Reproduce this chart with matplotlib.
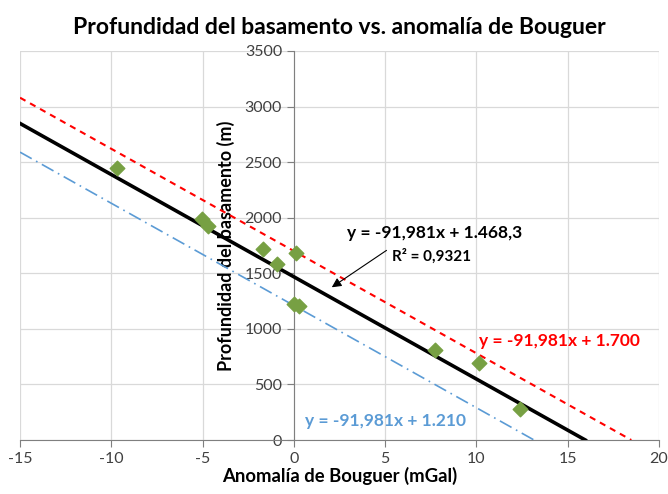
import numpy as np
import matplotlib.pyplot as plt

plt.rcParams['font.family'] = ['Lato', 'DejaVu Sans']
plt.rcParams['axes.unicode_minus'] = False

# datos
anomalia = [-9.7, -5.05, -4.72, -1.71, -0.94, 0.11, 0.0, 0.3, 7.73, 10.15, 12.4]
profundidad = [2448, 1985, 1925, 1716, 1584, 1680, 1224, 1210, 810, 690, 275]

pendiente = -91.981
ordenadas = [1468.3, 1700, 1210]
colores = ['black', '#ff0000', '#5b9bd5']
etiquetas = ['y = -91,981x + 1.468,3', 'y = -91,981x + 1.700', 'y = -91,981x + 1.210']

x_ticks = [-15, -10, -5, 0, 5, 10, 15, 20]
y_ticks = [0, 500, 1000, 1500, 2000, 2500, 3000, 3500]

fig = plt.figure(figsize=(6.68, 4.94), dpi=100)
ax = fig.add_axes([0.030, 0.1093, 0.9565, 0.7875])

# rectas: desde x=-15 hasta el corte con y=0
estilos = [dict(lw=2.6, ls='-'), dict(lw=1.5, ls=(0, (3, 2.5))), dict(lw=1.2, ls=(0, (8, 3, 1, 3)))]
for b, c, st in zip(ordenadas, colores, estilos):
    x0 = -b / pendiente
    xs = np.array([-15, x0])
    ax.plot(xs, pendiente * xs + b, color=c, zorder=3, **st)

ax.scatter(anomalia, profundidad, marker='D', s=55, color='#77a043', zorder=4)

ax.set_xlim(-15, 20)
ax.set_ylim(0, 3500)
ax.set_xticks(x_ticks)
ax.set_yticks(y_ticks)
ax.grid(True, color='#d9d9d9', lw=0.9)
ax.set_axisbelow(True)

ax.spines['left'].set_position(('data', 0))
ax.spines['top'].set_visible(False)
ax.spines['right'].set_visible(False)
for s in ['left', 'bottom']:
    ax.spines[s].set_color('#7f7f7f')
    ax.spines[s].set_zorder(2)
ax.tick_params(axis='both', direction='out', length=5, color='#7f7f7f',
               labelcolor='#404040', labelsize=11.5)

ax.set_title('Profundidad del basamento vs. anomalía de Bouguer',
             fontsize=16.5, fontweight='bold', pad=12)
ax.set_xlabel('Anomalía de Bouguer (mGal)', fontsize=13.3, fontweight='bold', labelpad=1)
ax.set_ylabel('Profundidad del basamento (m)', fontsize=13, fontweight='bold')
ax.yaxis.set_label_coords(0.337, 0.5)

ax.text(7.73, 1863, etiquetas[0], fontsize=12.5, fontweight='bold', ha='center', va='center')
ax.text(7.56, 1650, 'R² = 0,9321', fontsize=11, fontweight='bold', ha='center', va='center')
ax.annotate('', xy=(1.95, 1360), xytext=(5.2, 1720),
            arrowprops=dict(arrowstyle='-|>', color='black', lw=0.8, mutation_scale=14))
ax.text(14.57, 891, etiquetas[1], fontsize=12.5, fontweight='bold', color=colores[1],
        ha='center', va='center')
ax.text(5.04, 171, etiquetas[2], fontsize=12.5, fontweight='bold', color=colores[2],
        ha='center', va='center')

fig.savefig('out.png', dpi=100)
